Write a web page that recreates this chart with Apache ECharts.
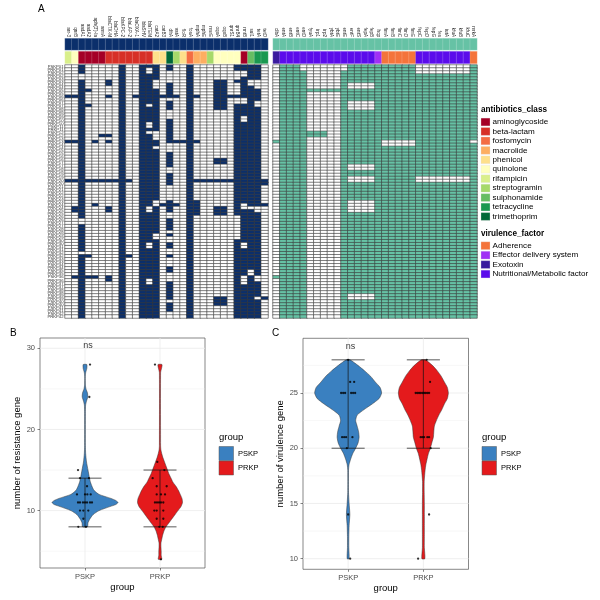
<!DOCTYPE html>
<html><head><meta charset="utf-8">
<script src="https://cdn.jsdelivr.net/npm/echarts/dist/echarts.min.js"></script>
<style>html,body{margin:0;padding:0;background:#fff}#c{width:600px;height:600px}</style>
</head><body><div id="c"></div>
<script>
// ---------------- DATA ----------------
const NAVY = '#0b2f6b', TEAL = '#66c2a5';
const resClasses = ['aminoglycoside','beta-lactam','fosfomycin','macrolide','phenicol','quinolone','rifampicin','streptogramin','sulphonamide','tetracycline','trimethoprim'];
const resClassColors = ['#a50026','#d73027','#f46d43','#fdae61','#fee08b','#ffffbf','#d9ef8b','#a6d96a','#66bd63','#1a9850','#006837'];
const virClasses = ['Adherence','Effector delivery system','Exotoxin','Nutritional/Metabolic factor'];
const virClassColors = ['#f4743b','#a030f5','#3a1b9e','#5b0ceb'];

const resGenes = ['arr-3','qnrB','aadA1','aadA2','aph(3\')-Ia','armA','blaCTX-M','blaDHA','blaKPC-2','blaLAP-2','blaOXA-1','blaSHV','blaTEM','catA2','catB3','dfrA','vatA','floR','fosA','mphA','mphE','msrE','oqxA','oqxB','qnrS1','qnrB4','rmtB','sul1','tetA','tetD'];
const resGeneClass = ['rifampicin','quinolone','aminoglycoside','aminoglycoside','aminoglycoside','aminoglycoside','beta-lactam','beta-lactam','beta-lactam','beta-lactam','beta-lactam','beta-lactam','beta-lactam','phenicol','phenicol','trimethoprim','streptogramin','phenicol','fosfomycin','macrolide','macrolide','streptogramin','quinolone','quinolone','quinolone','quinolone','aminoglycoside','sulphonamide','tetracycline','tetracycline'];

const virGenes = ['clbA','entA','entB','entC','entD','fyuA','irp1','irp2','ybtA','ybtE','entE','entF','entS','fepA','fepB','hcp','fimA','fimB','fimC','fimD','fimE','fepC','fepD','fepG','fes','iutA','kfuA','kfuB','kfuC','mrkA'];
const virGeneClass = ['Exotoxin','Nutritional/Metabolic factor','Nutritional/Metabolic factor','Nutritional/Metabolic factor','Nutritional/Metabolic factor','Nutritional/Metabolic factor','Nutritional/Metabolic factor','Nutritional/Metabolic factor','Nutritional/Metabolic factor','Nutritional/Metabolic factor','Nutritional/Metabolic factor','Nutritional/Metabolic factor','Nutritional/Metabolic factor','Nutritional/Metabolic factor','Nutritional/Metabolic factor','Effector delivery system','Adherence','Adherence','Adherence','Adherence','Adherence','Nutritional/Metabolic factor','Nutritional/Metabolic factor','Nutritional/Metabolic factor','Nutritional/Metabolic factor','Nutritional/Metabolic factor','Nutritional/Metabolic factor','Nutritional/Metabolic factor','Nutritional/Metabolic factor','Adherence'];

// strain rows (interleaved)
const strains = [];
for (let i = 1; i <= 42; i++) { const n = String(i).padStart(2, '0'); strains.push('PSKP' + n, 'PRKP' + n); }

// presence per gene: [default state, rows where state differs]
const resPresence = [
  [0,[10,25,38]],
  [0,[10,25,38,47,48,70]],
  [1,[3,4,51,52,62]],
  [0,[8,13,38,63,70]],
  [0,[25,38,46,70]],
  [0,[23,38]],
  [0,[5,6,10,23,25,38,47,48,70,71]],
  [0,[38]],
  [1,[]],
  [0,[38,63]],
  [0,[10]],
  [1,[]],
  [1,[1,2,13,19,20,22,47,48,59,60,71,72]],
  [1,[5,6,7,22,23,24,27,45,46,56,57]],
  [0,[10,46]],
  [0,[0,1,6,7,8,9,10,12,13,14,18,19,20,21,22,23,24,25,29,30,31,32,33,36,37,38,39,45,46,47,48,51,52,53,54,56,59,60,63,67,68,72,73,74,75,76,77,79,80,81]],
  [0,[10,25,46]],
  [0,[25]],
  [1,[]],
  [0,[10,25,38,45,46,47,48,49]],
  [0,[38]],
  [0,[38]],
  [0,[5,6,7,8,9,10,11,12,13,14,31,32,38,47,48,49,77,78,79]],
  [0,[5,6,7,8,9,10,11,12,13,14,31,32,38,47,48,49,77,78,79]],
  [0,[10,38]],
  [1,[2,3,4,6,7,8,9,11,12,50,51,52,53,54,55,56,57]],
  [1,[2,3,11,12,17,18,46,47,59,60,70,71,72]],
  [1,[5,6,47,68,69]],
  [1,[5,6,7,12,13,47,48,70,71,77]],
  [0,[38,39,46,77]]
];
const virPresence = [
  [0,[25,70]],
  [1,[]],[1,[]],[1,[]],
  [1,[0,1]],
  [0,[8,22,23]],[0,[8,22,23]],[0,[8,22,23]],
  [0,[8]],[0,[8]],
  [1,[0,1]],
  [1,[6,7,12,13,14,33,34,37,38,45,46,47,48,76,77]],
  [1,[6,7,12,13,14,33,34,37,38,45,46,47,48,76,77]],
  [1,[6,7,12,13,14,33,34,37,38,45,46,47,48,76,77]],
  [1,[6,7,12,13,14,33,34,37,38,45,46,47,48,76,77]],
  [1,[]],
  [1,[25,26]],[1,[25,26]],[1,[25,26]],[1,[25,26]],[1,[25,26]],
  [1,[0,1,2,37,38]],[1,[0,1,2,37,38]],[1,[0,1,2,37,38]],[1,[0,1,2,37,38]],
  [1,[0,1,2,37,38]],[1,[0,1,2,37,38]],[1,[0,1,2,37,38]],[1,[0,1,2,37,38]],
  [1,[25]]
];

const groups = ['PSKP','PRKP'];
const groupColors = ['#3a80c0','#e41a1c'];

// violin half-widths (x-axis units) at gene counts
const violinB_PSKP = [[8,0.033],[8.5,0.04],[9,0.067],[9.5,0.107],[10,0.187],[10.5,0.333],[10.75,0.41],[11,0.44],[11.25,0.41],[11.5,0.347],[12,0.187],[12.5,0.12],[13,0.093],[13.5,0.073],[14,0.06],[15,0.04],[16,0.02],[17,0.009],[18,0.005],[22,0.005],[23,0.008],[23.5,0.02],[24,0.037],[24.5,0.033],[25,0.013],[25.5,0.005],[26.5,0.004],[27,0.009],[27.5,0.024],[28,0.024]];
const violinB_PRKP = [[4,0.023],[4.5,0.016],[5,0.016],[5.5,0.013],[6,0.013],[6.5,0.024],[7,0.036],[7.5,0.053],[8,0.08],[8.5,0.12],[9,0.16],[9.5,0.2],[10,0.24],[10.5,0.28],[11,0.3],[11.5,0.293],[12,0.27],[12.5,0.245],[13,0.213],[13.5,0.173],[14,0.147],[14.5,0.12],[15,0.1],[15.5,0.08],[16,0.06],[16.5,0.04],[17,0.024],[17.5,0.012],[18,0.008],[27,0.008],[27.5,0.02],[28,0.027]];
const violinC_PSKP = [[10,0.013],[11,0.009],[12,0.009],[13,0.013],[14,0.023],[15,0.013],[16,0.005],[18,0.005],[18.5,0.012],[19,0.033],[19.5,0.06],[20,0.1],[20.5,0.133],[21,0.146],[21.5,0.139],[22,0.12],[22.5,0.1],[23,0.12],[23.5,0.212],[24,0.319],[24.5,0.412],[25,0.445],[25.5,0.425],[26,0.36],[26.5,0.3],[27,0.22],[27.5,0.13],[28,0.025]];
const violinC_PRKP = [[10,0.02],[11,0.013],[12,0.013],[13,0.013],[14,0.013],[15,0.013],[16,0.011],[17,0.011],[18,0.023],[18.5,0.033],[19,0.049],[19.5,0.066],[20,0.093],[20.5,0.113],[21,0.133],[21.5,0.139],[22,0.146],[22.5,0.173],[23,0.206],[23.5,0.246],[24,0.279],[24.5,0.319],[25,0.332],[25.5,0.319],[26,0.279],[26.5,0.239],[27,0.186],[27.5,0.12],[28,0.027]];

// error bars [low, high]
const errB = [[8,14],[8,15]];
const errC = [[20,28],[20,28]];

// jittered points [x offset, count]
const ptsB_PSKP = [[0.067,28],[0.058,24],[-0.093,15],[-0.067,14],[0.053,14],[0.027,13],[-0.107,12],[0,12],[0.031,12],[0.076,12],[-0.093,11],[-0.067,11],[-0.027,11],[0,11],[0.027,11],[0.067,11],[0.093,11],[-0.067,10],[-0.022,10],[0.044,10],[-0.022,9],[-0.089,8],[0.013,8]];
const ptsB_PRKP = [[-0.067,28],[-0.036,16],[0.058,15],[-0.098,14],[-0.044,13],[0.089,13],[-0.044,12],[0.013,12],[0.067,12],[-0.067,11],[-0.04,11],[-0.013,11],[0.013,11],[0.044,11],[-0.076,10],[-0.044,10],[0.044,10],[-0.044,9],[0.044,9],[-0.009,8],[0.036,8],[0.013,4]];
const ptsC_PSKP = [[0,28],[0.027,26],[0.08,26],[-0.093,25],[-0.066,25],[-0.04,25],[0.04,25],[0.066,25],[0.093,25],[-0.08,21],[-0.053,21],[-0.027,21],[0.057,21],[-0.017,20],[0,14],[0.027,10]];
const ptsC_PRKP = [[0.044,28],[0.089,26],[-0.102,25],[-0.08,25],[-0.057,25],[-0.036,25],[-0.013,25],[0.009,25],[0.031,25],[0.053,25],[0.076,25],[-0.036,21],[-0.013,21],[0.009,21],[0.053,21],[0.076,21],[0.097,20],[0.076,14],[-0.07,10]];

const sigLabel = 'ns';
const yTicksB = [10,20,30], yTicksC = [10,15,20,25];
const gridMajorB = [10,20,30], gridMinorB = [5,15,25];
const gridMajorC = [10,15,20,25], gridMinorC = [12.5,17.5,22.5,27.5];

// ---------------- BUILD ----------------
function cells(presence, onVal) {
  const out = [];
  presence.forEach((p, gi) => {
    const s = new Set(p[1]);
    for (let r = 0; r < strains.length; r++) {
      const v = s.has(r) ? 1 - p[0] : p[0];
      out.push([gi, r, v ? onVal : 0]);
    }
  });
  return out;
}
const heatL = cells(resPresence, 1), heatR = cells(virPresence, 2);
const topL = resGenes.map((g, i) => [i, 0, 1]);
const topR = virGenes.map((g, i) => [i, 0, 2]);
const clsL = resGeneClass.map((c, i) => [i, 0, 10 + resClasses.indexOf(c)]);
const clsR = virGeneClass.map((c, i) => [i, 0, 30 + virClasses.indexOf(c)]);

const pieces = [{value:0,color:'#ffffff'},{value:1,color:NAVY},{value:2,color:TEAL}]
  .concat(resClassColors.map((c, i) => ({value:10+i, color:c})))
  .concat(virClassColors.map((c, i) => ({value:30+i, color:c})));

const FONT = 'Liberation Sans, Arial, Helvetica, sans-serif';
const catHidden = (gi, data) => ({gridIndex:gi, type:'category', data:data, show:false});

function valX(gi) {
  return {gridIndex:gi, type:'value', min:0.4, max:2.6, splitLine:{show:false}, axisLine:{show:false},
    axisTick:{show:true, customValues:[1,2], length:2.5, lineStyle:{color:'#333', width:0.6}},
    axisLabel:{customValues:[1,2], formatter:v => groups[Math.round(v)-1] || '', fontSize:7.5, color:'#4d4d4d', margin:5, fontFamily:FONT},
    name:'group', nameLocation:'middle', nameGap:14, nameTextStyle:{fontSize:9.5, color:'#000', fontFamily:FONT}};
}
function valY(gi, min, max, ticks, name, gap) {
  return {gridIndex:gi, type:'value', min:min, max:max, splitLine:{show:false}, axisLine:{show:false},
    axisTick:{show:true, customValues:ticks, length:2.5, lineStyle:{color:'#333', width:0.6}},
    axisLabel:{customValues:ticks, fontSize:7.5, color:'#4d4d4d', margin:5, fontFamily:FONT},
    name:name, nameLocation:'middle', nameGap:gap, nameTextStyle:{fontSize:9.5, color:'#000', fontFamily:FONT}};
}

function gridSeries(ax, vals, lw, dir, extent) {
  return {type:'custom', xAxisIndex:ax, yAxisIndex:ax, z:1, silent:true,
    data: vals.map(v => [v, lw]),
    renderItem: (params, api) => {
      const v = api.value(0), w = api.value(1);
      const a = dir === 'h' ? api.coord([extent[0], v]) : api.coord([v, extent[0]]);
      const b = dir === 'h' ? api.coord([extent[1], v]) : api.coord([v, extent[1]]);
      return {type:'line', shape:{x1:a[0], y1:a[1], x2:b[0], y2:b[1]}, style:{stroke:'#ebebeb', lineWidth:w}};
    }};
}
function violinSeries(ax, profiles) {
  return {type:'custom', xAxisIndex:ax, yAxisIndex:ax, z:3, silent:true,
    data: [[1, 10], [2, 10]],
    renderItem: (params, api) => {
      const g = params.dataIndex, prof = profiles[g], cx = g + 1, pts = [];
      for (let i = 0; i < prof.length; i++) pts.push(api.coord([cx + prof[i][1], prof[i][0]]));
      for (let i = prof.length - 1; i >= 0; i--) pts.push(api.coord([cx - prof[i][1], prof[i][0]]));
      return {type:'polygon', shape:{points:pts, smooth:0.2}, style:{fill:groupColors[g], stroke:'#333', lineWidth:0.5}};
    }};
}
function errSeries(ax, err) {
  return {type:'custom', xAxisIndex:ax, yAxisIndex:ax, z:4, silent:true,
    data: err.map((e, i) => [i + 1, e[0], e[1]]),
    renderItem: (params, api) => {
      const x = api.value(0), lo = api.value(1), hi = api.value(2), hw = 0.22;
      const st = {stroke:'#111', lineWidth:0.7};
      const seg = (p, q) => ({type:'line', shape:{x1:p[0], y1:p[1], x2:q[0], y2:q[1]}, style:st});
      return {type:'group', children:[
        seg(api.coord([x - hw, lo]), api.coord([x + hw, lo])),
        seg(api.coord([x - hw, hi]), api.coord([x + hw, hi])),
        seg(api.coord([x, lo]), api.coord([x, hi]))
      ]};
    }};
}
function ptSeries(ax, pts, g) {
  return {type:'scatter', xAxisIndex:ax, yAxisIndex:ax, z:5, silent:true, symbolSize:2.3,
    itemStyle:{color:'#000'}, data: pts.map(p => [g + 1 + p[0], p[1]])};
}
function nsSeries(ax, x, y) {
  return {type:'scatter', xAxisIndex:ax, yAxisIndex:ax, z:6, silent:true, symbolSize:0,
    data:[[x, y]], label:{show:true, position:'inside', formatter:sigLabel, fontSize:9, color:'#000', fontFamily:FONT}};
}

// legends (graphics)
const graphics = [];
graphics.push({type:'text', x:38, y:9, style:{text:'A', fontSize:10, fontFamily:FONT, fill:'#000', verticalAlign:'middle'}});
graphics.push({type:'text', x:10, y:333, style:{text:'B', fontSize:10, fontFamily:FONT, fill:'#000', verticalAlign:'middle'}});
graphics.push({type:'text', x:272, y:333, style:{text:'C', fontSize:10, fontFamily:FONT, fill:'#000', verticalAlign:'middle'}});
function legendBlock(title, names, colors, x0, yTitle, yFirst, step) {
  graphics.push({type:'text', x:x0, y:yTitle, style:{text:title, fontSize:8.2, fontWeight:'bold', fontFamily:FONT, fill:'#000', verticalAlign:'middle'}});
  names.forEach((n, i) => {
    const yc = yFirst + step * i;
    graphics.push({type:'rect', shape:{x:x0, y:yc - 3.9, width:9, height:7.8}, style:{fill:colors[i], stroke:'#e0e0e0', lineWidth:0.3}});
    graphics.push({type:'text', x:x0 + 11.5, y:yc, style:{text:n, fontSize:8.1, fontFamily:FONT, fill:'#000', verticalAlign:'middle'}});
  });
}
legendBlock('antibiotics_class', resClasses, resClassColors, 481, 109.5, 122, 9.45);
legendBlock('virulence_factor', virClasses, virClassColors, 481, 234, 245.7, 9.45);
function groupLegend(x0) {
  graphics.push({type:'text', x:x0, y:437.5, style:{text:'group', fontSize:9.5, fontFamily:FONT, fill:'#000', verticalAlign:'middle'}});
  groups.forEach((g, i) => {
    const y = 446.5 + 14.5 * i;
    graphics.push({type:'rect', shape:{x:x0, y:y, width:14.5, height:14}, style:{fill:groupColors[i], stroke:'#555', lineWidth:0.5}});
    graphics.push({type:'text', x:x0 + 19, y:y + 7, style:{text:g, fontSize:7.5, fontFamily:FONT, fill:'#000', verticalAlign:'middle'}});
  });
}
groupLegend(219);
groupLegend(482);

const heatStyle = {borderColor:'#3a3a3a', borderWidth:0.6};
const barStyle = {borderColor:'rgba(255,255,255,0.35)', borderWidth:0.5};
const yBRange = [2.93, 31.27], yCRange = [9.04, 29.95];

const option = {
  animation:false,
  textStyle:{fontFamily:FONT},
  grid:[
    {left:65, top:65, width:203, height:253},
    {left:273, top:65, width:204, height:253},
    {left:65, top:38.5, width:203, height:11.5},
    {left:273, top:38.5, width:204, height:11.5},
    {left:65, top:51.5, width:203, height:12},
    {left:273, top:51.5, width:204, height:12},
    {left:40, top:338, width:165, height:230, show:true, borderColor:'#555', borderWidth:0.7},
    {left:303, top:338.3, width:165.5, height:231, show:true, borderColor:'#555', borderWidth:0.7}
  ],
  xAxis:[
    catHidden(0, resGenes), catHidden(1, virGenes),
    {gridIndex:2, type:'category', data:resGenes, position:'top', axisLine:{show:false}, axisTick:{show:false},
      axisLabel:{rotate:90, interval:0, fontSize:4.6, margin:1.5, color:'#222', fontFamily:FONT}},
    {gridIndex:3, type:'category', data:virGenes, position:'top', axisLine:{show:false}, axisTick:{show:false},
      axisLabel:{rotate:90, interval:0, fontSize:4.6, margin:1.5, color:'#222', fontFamily:FONT}},
    catHidden(4, resGenes), catHidden(5, virGenes),
    valX(6), valX(7)
  ],
  yAxis:[
    {gridIndex:0, type:'category', data:strains, inverse:true, axisLine:{show:false}, axisTick:{show:false},
      axisLabel:{interval:0, fontSize:4.2, margin:1.5, color:'#333', fontFamily:FONT}},
    {gridIndex:1, type:'category', data:strains, inverse:true, show:false},
    catHidden(2, ['a']), catHidden(3, ['a']), catHidden(4, ['a']), catHidden(5, ['a']),
    valY(6, yBRange[0], yBRange[1], yTicksB, 'number of resistance gene', 13.5),
    valY(7, yCRange[0], yCRange[1], yTicksC, 'number of virulence gene', 15)
  ],
  visualMap:[{type:'piecewise', show:false, dimension:2, seriesIndex:[0,1,2,3,4,5], pieces:pieces}],
  series:[
    {type:'heatmap', xAxisIndex:0, yAxisIndex:0, data:heatL, itemStyle:heatStyle, progressive:0, emphasis:{disabled:true}, silent:true},
    {type:'heatmap', xAxisIndex:1, yAxisIndex:1, data:heatR, itemStyle:heatStyle, progressive:0, emphasis:{disabled:true}, silent:true},
    {type:'heatmap', xAxisIndex:2, yAxisIndex:2, data:topL, itemStyle:barStyle, progressive:0, emphasis:{disabled:true}, silent:true},
    {type:'heatmap', xAxisIndex:3, yAxisIndex:3, data:topR, itemStyle:barStyle, progressive:0, emphasis:{disabled:true}, silent:true},
    {type:'heatmap', xAxisIndex:4, yAxisIndex:4, data:clsL, itemStyle:barStyle, progressive:0, emphasis:{disabled:true}, silent:true},
    {type:'heatmap', xAxisIndex:5, yAxisIndex:5, data:clsR, itemStyle:barStyle, progressive:0, emphasis:{disabled:true}, silent:true},
    gridSeries(6, gridMinorB, 0.4, 'h', [0.4, 2.6]),
    gridSeries(6, gridMajorB, 0.8, 'h', [0.4, 2.6]),
    gridSeries(6, [1, 2], 0.8, 'v', yBRange),
    gridSeries(7, gridMinorC, 0.4, 'h', [0.4, 2.6]),
    gridSeries(7, gridMajorC, 0.8, 'h', [0.4, 2.6]),
    gridSeries(7, [1, 2], 0.8, 'v', yCRange),
    violinSeries(6, [violinB_PSKP, violinB_PRKP]),
    violinSeries(7, [violinC_PSKP, violinC_PRKP]),
    errSeries(6, errB), errSeries(7, errC),
    ptSeries(6, ptsB_PSKP, 0), ptSeries(6, ptsB_PRKP, 1),
    ptSeries(7, ptsC_PSKP, 0), ptSeries(7, ptsC_PRKP, 1),
    nsSeries(6, 1.04, 30.33), nsSeries(7, 1.03, 29.2)
  ],
  graphic: graphics
};
const chart = echarts.init(document.getElementById('c'));
chart.setOption(option);
</script></body></html>
